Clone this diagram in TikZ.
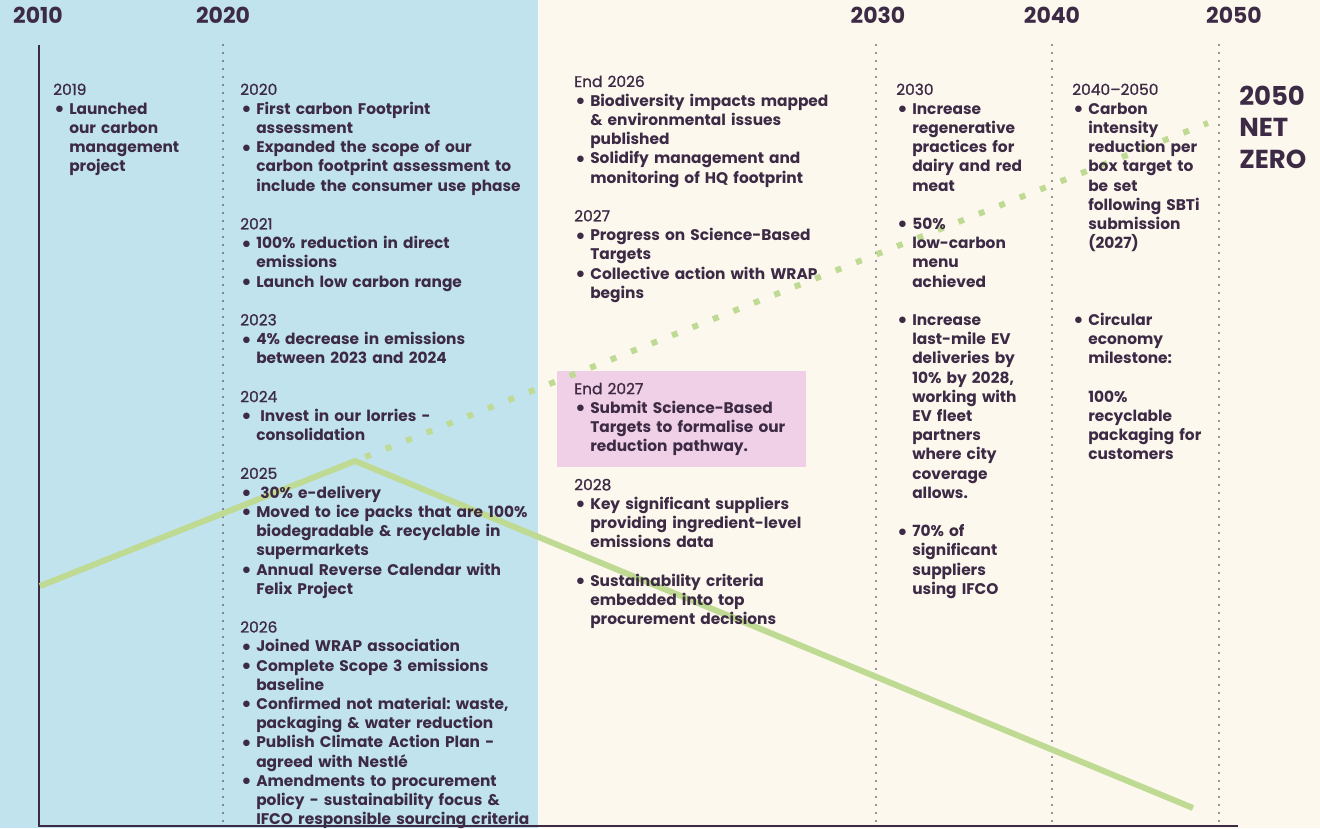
\documentclass[tikz,border=0pt]{standalone}
\usepackage{fontspec}
\usepackage{graphicx}
\usetikzlibrary{calc}
\setmainfont{Poppins}
\newfontfamily\bodyf{Poppins}
\newfontfamily\headf{Poppins}[FakeBold=1]
\definecolor{ink}{HTML}{3D2A45}
\definecolor{bluebg}{HTML}{C1E3EE}
\definecolor{creambg}{HTML}{FCF8EE}
\definecolor{gline}{HTML}{BFDA92}
\definecolor{pinkbg}{HTML}{F0D0E6}
\newcommand\bu{\makebox[12pt][l]{\hspace{0.6pt}\raisebox{-0.3ex}{\scalebox{1.4}{\textbullet}}}}
\newcommand\ci{\hspace*{12pt}}
\newcommand\hy[1]{{\mdseries\headf #1}}
\begin{document}
\begin{tikzpicture}[x=0.75pt,y=-0.75pt,
  col/.style={anchor=base west,inner sep=0pt,text width=260pt,align=left,text=ink,
    font=\bodyf\bfseries\frenchspacing\fontsize{11.55}{14.4}\selectfont},
  yr/.style={inner sep=0pt,text=ink,font=\bodyf\bfseries\fontsize{16.5}{18}\selectfont},
  vdot/.style={ink,line width=1.3pt,dash pattern=on 0pt off 6pt,line cap=round},
  axis/.style={ink,line width=1.5pt},
  solidg/.style={gline,line width=4.5pt},
  dotg/.style={gline,line width=4.5pt,dash pattern=on 4.5pt off 12pt}]
\useasboundingbox (0,0) rectangle (1320,828);
\fill[creambg] (0,0) rectangle (1320,828);
\fill[bluebg] (0,0) rectangle (538,828);
\fill[pinkbg] (557,371) rectangle (806,467);
% dotted verticals
\coordinate (d1t) at (223,45); \coordinate (d1b) at (223,828);
\coordinate (d2t) at (876,45); \coordinate (d2b) at (876,828);
\coordinate (d3t) at (1052,45); \coordinate (d3b) at (1052,828);
\coordinate (d4t) at (1219,45); \coordinate (d4b) at (1219,828);
\draw[vdot] (d1t) -- (d1b);
\draw[vdot] (d2t) -- (d2b);
\draw[vdot] (d3t) -- (d3b);
\draw[vdot] (d4t) -- (d4b);
% axes
\coordinate (ax0) at (39,45); \coordinate (ax1) at (39,826); \coordinate (ax2) at (1238,826);
\draw[axis] (ax0) -- (ax1) -- (ax2);
% green lines
\coordinate (g0) at (40,586); \coordinate (gp) at (355,461);
\coordinate (g1) at (1193,808); \coordinate (g2) at (1208,123);
\draw[solidg] (g0) -- (gp) -- (g1);
\draw[dotg] ($(gp)!0.012!(g2)$) -- (g2);
% year labels
\node[yr] (y2010) at (38,15) {2010};
\node[yr] (y2020) at (223,15) {2020};
\node[yr] (y2030) at (878,15) {2030};
\node[yr] (y2040) at (1052,15) {2040};
\node[yr] (y2050) at (1234,15) {2050};
% net zero
\node[anchor=base west,inner sep=0pt,text width=80pt,align=left,text=ink,font=\bodyf\bfseries\fontsize{19.5}{23.8}\selectfont] (nz) at (1239,105) {2050\\NET\\ZERO};
% columns
\node[col] (c1) at (53,95) {\hy{2019}\\
\bu Launched\\
\ci our carbon\\
\ci management\\
\ci project};
\node[col] (c2) at (240,95) {\hy{2020}\\
\bu First carbon Footprint\\
\ci assessment\\
\bu Expanded the scope of our\\
\ci carbon footprint assessment to\\
\ci include the consumer use phase\\
\mbox{}\\
\hy{2021}\\
\bu 100\% reduction in direct\\
\ci emissions\\
\bu Launch low carbon range\\
\mbox{}\\
\hy{2023}\\
\bu 4\% decrease in emissions\\
\ci between 2023 and 2024\\
\mbox{}\\
\hy{2024}\\
\bu\hspace{3pt}Invest in our lorries -\\
\ci consolidation\\
\mbox{}\\
\hy{2025}\\
\bu\hspace{3pt}30\% e-delivery\\
\bu Moved to ice packs that are 100\%\\
\ci biodegradable \& recyclable in\\
\ci supermarkets\\
\bu Annual Reverse Calendar with\\
\ci Felix Project\\
\mbox{}\\
\hy{2026}\\
\bu Joined WRAP association\\
\bu Complete Scope 3 emissions\\
\ci baseline\\
\bu Confirmed not material: waste,\\
\ci packaging \& water reduction\\
\bu Publish Climate Action Plan -\\
\ci agreed with Nestlé\\
\bu Amendments to procurement\\
\ci policy - sustainability focus \&\\
\ci IFCO responsible sourcing criteria};
\node[col] (c3) at (574,87) {\hy{End 2026}\\
\bu Biodiversity impacts mapped\\
\ci \& environmental issues\\
\ci published\\
\bu Solidify management and\\
\ci monitoring of HQ footprint\\
\mbox{}\\
\hy{2027}\\
\bu Progress on Science-Based\\
\ci Targets\\
\bu Collective action with WRAP\\
\ci begins\\
\mbox{}\\
\mbox{}\\
\mbox{}\\
\mbox{}\\
\hy{End 2027}\\
\bu Submit Science-Based\\
\ci Targets to formalise our\\
\ci reduction pathway.\\
\mbox{}\\
\hy{2028}\\
\bu Key significant suppliers\\
\ci providing ingredient-level\\
\ci emissions data\\
\mbox{}\\
\bu Sustainability criteria\\
\ci embedded into top\\
\ci procurement decisions};
\node[col] (c4) at (896,95) {\hy{2030}\\
\bu Increase\\
\ci regenerative\\
\ci practices for\\
\ci dairy and red\\
\ci meat\\
\mbox{}\\
\bu 50\%\\
\ci low-carbon\\
\ci menu\\
\ci achieved\\
\mbox{}\\
\bu Increase\\
\ci last-mile EV\\
\ci deliveries by\\
\ci 10\% by 2028,\\
\ci working with\\
\ci EV fleet\\
\ci partners\\
\ci where city\\
\ci coverage\\
\ci allows.\\
\mbox{}\\
\bu 70\% of\\
\ci significant\\
\ci suppliers\\
\ci using IFCO};
\node[col] (c5) at (1072,95) {\hy{2040–2050}\\
\bu Carbon\\
\ci intensity\\
\ci reduction per\\
\ci box target to\\
\ci be set\\
\ci following SBTi\\
\ci submission\\
\ci (2027)\\
\mbox{}\\
\mbox{}\\
\mbox{}\\
\bu Circular\\
\ci economy\\
\ci milestone:\\
\mbox{}\\
\ci 100\%\\
\ci recyclable\\
\ci packaging for\\
\ci customers};
\end{tikzpicture}
\end{document}
